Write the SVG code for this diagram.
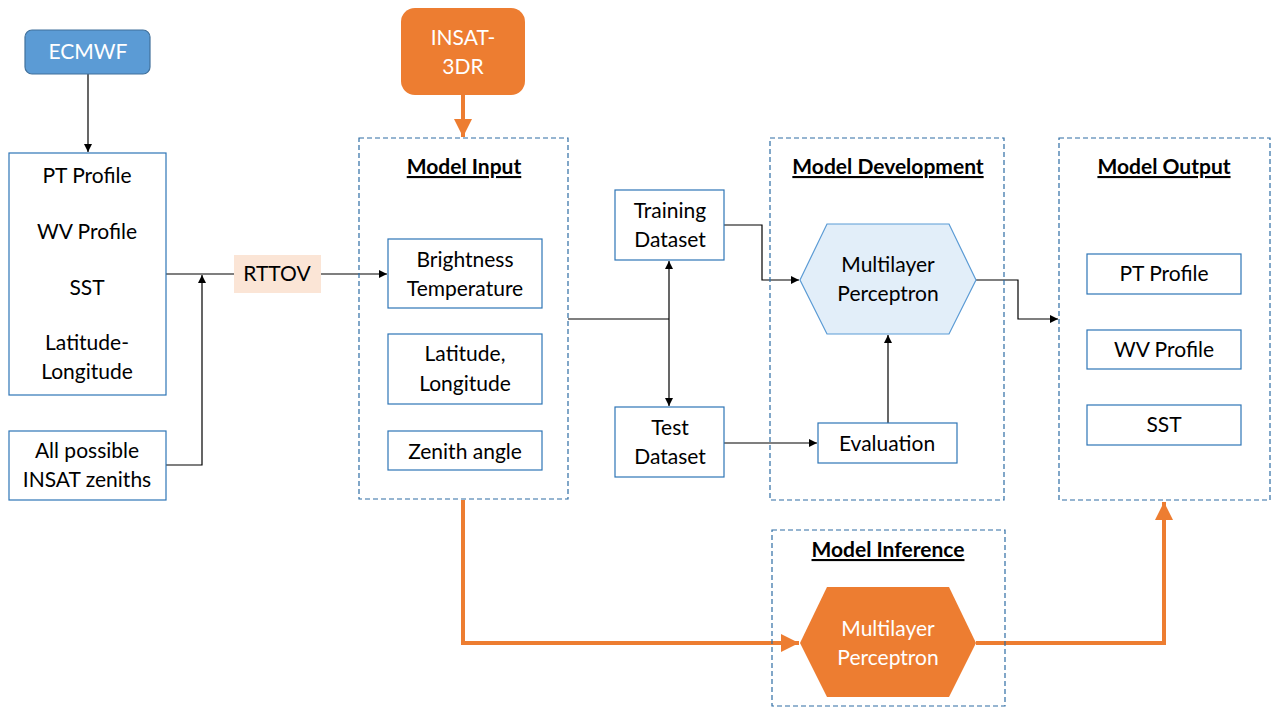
<svg xmlns="http://www.w3.org/2000/svg" width="1280" height="720" viewBox="0 0 1280 720">
<defs>
<style>
text{font-family:Lato,"Open Sans","Liberation Sans",sans-serif;font-size:21px;text-anchor:middle;fill:#000}
.w{fill:#fff}
.t{font-weight:bold;text-decoration:underline;font-size:21px}
.box{fill:#fff;stroke:#2e75b6;stroke-width:1.2}
.grp{fill:none;stroke:#2e6da4;stroke-width:1.2;stroke-dasharray:5 3}
.ln{fill:none;stroke:#000;stroke-width:1.2}
.or{fill:none;stroke:#ed7d31;stroke-width:4}
</style>
<marker id="a" viewBox="0 0 10 10" refX="10" refY="5" markerWidth="8" markerHeight="8" markerUnits="userSpaceOnUse" orient="auto"><path d="M0,0L10,5L0,10z" fill="#000"/></marker>
<marker id="ao" viewBox="0 0 10 10" refX="10" refY="5" markerWidth="4.5" markerHeight="4.5" orient="auto"><path d="M0,0L10,5L0,10z" fill="#ed7d31"/></marker>
</defs>
<rect width="1280" height="720" fill="#fff"/>

<g id="connectors">
<path class="ln" d="M88,74V152" marker-end="url(#a)"/>
<path class="ln" d="M166,274H234"/>
<path class="ln" d="M166,465H202V275" marker-end="url(#a)"/>
<path class="ln" d="M321,274H387" stroke="#555" marker-end="url(#a)"/>
<path class="ln" d="M568,319H669"/>
<path class="ln" d="M669,319V261" marker-end="url(#a)"/>
<path class="ln" d="M669,319V406" marker-end="url(#a)"/>
<path class="ln" d="M724,225H762V280H799" marker-end="url(#a)"/>
<path class="ln" d="M724,443H817" marker-end="url(#a)"/>
<path class="ln" d="M888,423V335" marker-end="url(#a)"/>
<path class="ln" d="M976,280H1018V319H1058" marker-end="url(#a)"/>
<path class="or" d="M463,95V137" marker-end="url(#ao)"/>
<path class="or" d="M463,500V643H799" marker-end="url(#ao)"/>
<path class="or" d="M976,643H1164V502" marker-end="url(#ao)"/>
</g>

<g id="ecmwf">
<rect x="25" y="30" width="125" height="44" rx="7" fill="#5b9bd5" stroke="#41719c" stroke-width="1.2"/>
<text class="w" x="88" y="59">ECMWF</text>
</g>

<g id="profiles">
<rect class="box" x="9" y="153" width="157" height="242"/>
<text x="87" y="183">PT Profile</text>
<text x="87" y="239">WV Profile</text>
<text x="87" y="295">SST</text>
<text x="87" y="350">Latitude-</text>
<text x="87" y="379">Longitude</text>
</g>

<g id="zeniths">
<rect class="box" x="9" y="431" width="157" height="69"/>
<text x="87" y="458">All possible</text>
<text x="87" y="487">INSAT zeniths</text>
</g>

<g id="rttov">
<rect x="234" y="255" width="87" height="38" fill="#fbe5d6"/>
<text x="277" y="281">RTTOV</text>
</g>

<g id="insat">
<rect x="401" y="8" width="124" height="87" rx="14" fill="#ed7d31"/>
<text class="w" x="463" y="45">INSAT-</text>
<text class="w" x="463" y="74">3DR</text>
</g>

<g id="model-input">
<rect class="grp" x="359" y="138" width="209" height="361"/>
<text class="t" x="464" y="174">Model Input</text>
</g>

<g id="brightness">
<rect class="box" x="388" y="239" width="154" height="69"/>
<text x="465" y="267">Brightness</text>
<text x="465" y="296">Temperature</text>
</g>

<g id="latlon">
<rect class="box" x="388" y="334" width="154" height="70"/>
<text x="465" y="361">Latitude,</text>
<text x="465" y="391">Longitude</text>
</g>

<g id="zenith">
<rect class="box" x="388" y="431" width="154" height="39"/>
<text x="465" y="459">Zenith angle</text>
</g>

<g id="training">
<rect class="box" x="615" y="190" width="109" height="70"/>
<text x="670" y="218">Training</text>
<text x="670" y="247">Dataset</text>
</g>

<g id="test">
<rect class="box" x="615" y="407" width="109" height="70"/>
<text x="670" y="435">Test</text>
<text x="670" y="464">Dataset</text>
</g>

<g id="model-development">
<rect class="grp" x="770" y="138" width="234" height="362"/>
<text class="t" x="888" y="174">Model Development</text>
</g>

<g id="mlp-train">
<polygon points="800,280 827,224 949,224 976,280 949,334 827,334" fill="#e2eef9" stroke="#5b9bd5" stroke-width="1.2"/>
<text x="888" y="272">Multilayer</text>
<text x="888" y="301">Perceptron</text>
</g>

<g id="evaluation">
<rect class="box" x="818" y="423" width="139" height="40"/>
<text x="887" y="451">Evaluation</text>
</g>

<g id="model-output">
<rect class="grp" x="1059" y="138" width="211" height="362"/>
<text class="t" x="1164" y="174">Model Output</text>
</g>

<g id="out-pt">
<rect class="box" x="1087" y="254" width="154" height="40"/>
<text x="1164" y="281">PT Profile</text>
</g>

<g id="out-wv">
<rect class="box" x="1087" y="330" width="154" height="39"/>
<text x="1164" y="357">WV Profile</text>
</g>

<g id="out-sst">
<rect class="box" x="1087" y="405" width="154" height="40"/>
<text x="1164" y="432">SST</text>
</g>

<g id="model-inference">
<rect class="grp" x="772" y="530" width="233" height="176"/>
<text class="t" x="888" y="557">Model Inference</text>
</g>

<g id="mlp-infer">
<polygon points="800,643 827,587 949,587 976,643 949,697 827,697" fill="#ed7d31"/>
<text class="w" x="888" y="636">Multilayer</text>
<text class="w" x="888" y="665">Perceptron</text>
</g>
</svg>
